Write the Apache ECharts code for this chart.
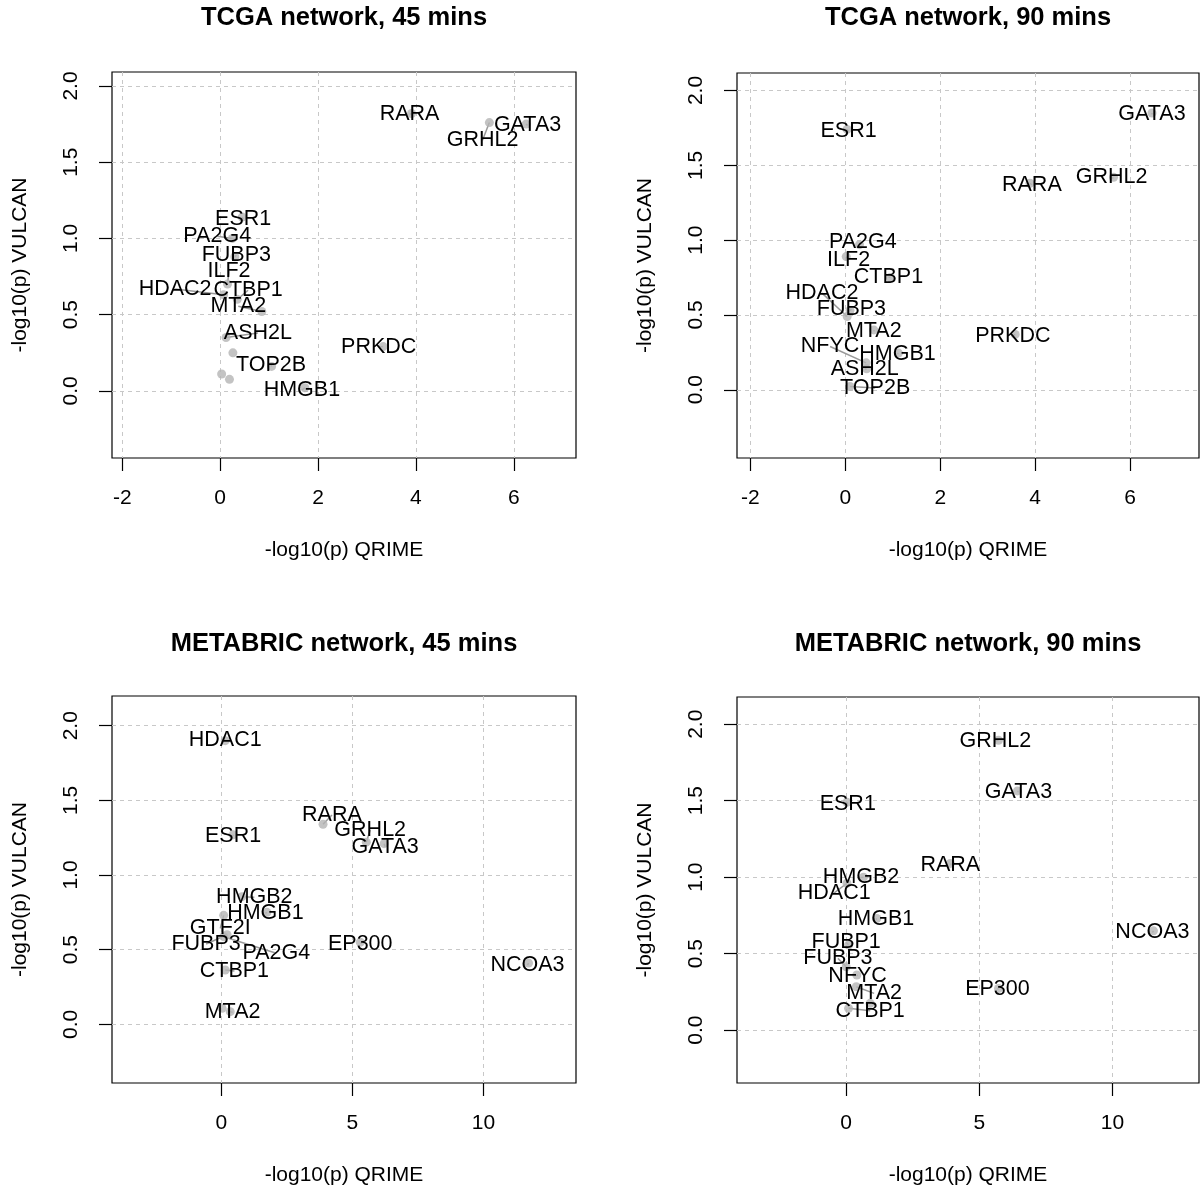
<!DOCTYPE html>
<html>
<head>
<meta charset="utf-8">
<script src="https://cdn.jsdelivr.net/npm/echarts@6/dist/echarts.min.js"></script>
<style>
  html, body { margin: 0; padding: 0; background: #fff; }
  #chart { width: 1201px; height: 1191px; }
</style>
</head>
<body>
<div id="chart"></div>
<script>
// ---------- Data ----------
// Panel 1: TCGA network, 45 mins
const tcga45Genes  = ['RARA','GATA3','GRHL2','ESR1','PA2G4','FUBP3','ILF2','HDAC2','CTBP1','MTA2','ASH2L','TOP2B','HMGB1','PRKDC'];
const tcga45Qrime  = [3.91, 6.25, 5.50, 0.45, 0.25, 0.30, 0.15, 0.07, 0.35, 0.85, 0.12, 1.05, 1.73, 3.33];
const tcga45Vulcan = [1.82, 1.75, 1.76, 1.14, 1.00, 0.88, 0.70, 0.63, 0.60, 0.52, 0.35, 0.16, 0.02, 0.29];
const tcga45LabelX = [3.87, 6.28, 5.36, 0.47, -0.06, 0.33, 0.18, -0.92, 0.57, 0.37, 0.77, 1.04, 1.67, 3.24];
const tcga45LabelY = [1.814, 1.742, 1.644, 1.126, 1.014, 0.89, 0.785, 0.668, 0.66, 0.555, 0.379, 0.168, 0.005, 0.287];
const tcga45OtherX = [0.26, 0.03, 0.19];
const tcga45OtherY = [0.249, 0.11, 0.075];

// Panel 2: TCGA network, 90 mins
const tcga90Genes  = ['GATA3','ESR1','RARA','GRHL2','PRKDC','PA2G4','ILF2','CTBP1','HDAC2','FUBP3','MTA2','NFYC','HMGB1','ASH2L','TOP2B'];
const tcga90Qrime  = [6.46, 0.04, 3.89, 5.65, 3.58, 0.30, 0.02, 0.95, 0.04, 0.10, 0.60, 0.44, 1.12, 0.45, 0.10];
const tcga90Vulcan = [1.85, 1.74, 1.38, 1.42, 0.37, 0.97, 0.89, 0.75, 0.49, 0.53, 0.40, 0.18, 0.245, 0.14, 0.022];
const tcga90LabelX = [6.46, 0.07, 3.93, 5.61, 3.53, 0.37, 0.07, 0.91, -0.49, 0.13, 0.60, -0.32, 1.10, 0.41, 0.63];
const tcga90LabelY = [1.84, 1.726, 1.37, 1.42, 0.361, 0.984, 0.869, 0.753, 0.646, 0.539, 0.39, 0.289, 0.24, 0.138, 0.011];
const tcga90OtherX = [];
const tcga90OtherY = [];

// Panel 3: METABRIC network, 45 mins
const metabric45Genes  = ['HDAC1','ESR1','RARA','GRHL2','GATA3','HMGB2','HMGB1','GTF2I','FUBP3','PA2G4','EP300','NCOA3','CTBP1','MTA2'];
const metabric45Qrime  = [0.15, 0.45, 3.88, 5.53, 6.21, 0.79, 1.74, 0.09, 0.22, 0.09, 5.30, 11.72, 0.15, 0.34];
const metabric45Vulcan = [1.90, 1.27, 1.34, 1.22, 1.21, 0.855, 0.75, 0.73, 0.60, 0.587, 0.55, 0.41, 0.364, 0.085];
const metabric45LabelX = [0.15, 0.45, 4.22, 5.68, 6.25, 1.26, 1.68, -0.04, -0.58, 2.10, 5.30, 11.68, 0.50, 0.43];
const metabric45LabelY = [1.904, 1.261, 1.402, 1.301, 1.19, 0.851, 0.743, 0.643, 0.538, 0.476, 0.538, 0.397, 0.357, 0.08];
const metabric45OtherX = [0.03];
const metabric45OtherY = [0.107];

// Panel 4: METABRIC network, 90 mins
const metabric90Genes  = ['GRHL2','GATA3','ESR1','RARA','HMGB2','HDAC1','HMGB1','NCOA3','FUBP1','FUBP3','NFYC','MTA2','CTBP1','EP300'];
const metabric90Qrime  = [5.72, 6.43, 0.03, 3.91, 0.65, 0.03, 1.15, 11.54, 0.09, 0.00, 0.40, 0.38, 0.09, 5.72];
const metabric90Vulcan = [1.895, 1.564, 1.49, 1.09, 1.00, 0.96, 0.73, 0.649, 0.556, 0.414, 0.36, 0.283, 0.142, 0.272];
const metabric90LabelX = [5.60, 6.47, 0.06, 3.91, 0.56, -0.45, 1.12, 11.50, 0.00, -0.31, 0.43, 1.05, 0.90, 5.68];
const metabric90LabelY = [1.891, 1.558, 1.475, 1.078, 0.998, 0.897, 0.723, 0.638, 0.573, 0.469, 0.355, 0.24, 0.126, 0.266];
const metabric90OtherX = [0.90];
const metabric90OtherY = [0.175];

// Tick labels
const tcgaXTicks = [-2, 0, 2, 4, 6];
const metabricXTicks = [0, 5, 10];
const yTicks = [0, 0.5, 1.0, 1.5, 2.0];

const titles = ['TCGA network, 45 mins', 'TCGA network, 90 mins', 'METABRIC network, 45 mins', 'METABRIC network, 90 mins'];
const xAxisTitle = '-log10(p) QRIME';
const yAxisTitle = '-log10(p) VULCAN';

// ---------- Layout / styles ----------
const FONT = 'Liberation Sans, Arial, Helvetica, sans-serif';
const panels = [
  { grid: { left: 112, top: 72, width: 464, height: 386 }, xMin: -2.21, xMax: 7.27, yMin: -0.441, yMax: 2.092, xTicks: tcgaXTicks,
    genes: tcga45Genes, qx: tcga45Qrime, vy: tcga45Vulcan, lx: tcga45LabelX, ly: tcga45LabelY, ox: tcga45OtherX, oy: tcga45OtherY, titleTop: 5 },
  { grid: { left: 737, top: 73, width: 462, height: 385 }, xMin: -2.28, xMax: 7.45, yMin: -0.456, yMax: 2.117, xTicks: tcgaXTicks,
    genes: tcga90Genes, qx: tcga90Qrime, vy: tcga90Vulcan, lx: tcga90LabelX, ly: tcga90LabelY, ox: tcga90OtherX, oy: tcga90OtherY, titleTop: 5 },
  { grid: { left: 112, top: 696, width: 464, height: 387 }, xMin: -4.17, xMax: 13.53, yMin: -0.393, yMax: 2.199, xTicks: metabricXTicks,
    genes: metabric45Genes, qx: metabric45Qrime, vy: metabric45Vulcan, lx: metabric45LabelX, ly: metabric45LabelY, ox: metabric45OtherX, oy: metabric45OtherY, titleTop: 631 },
  { grid: { left: 737, top: 697, width: 462, height: 386 }, xMin: -4.10, xMax: 13.25, yMin: -0.346, yMax: 2.178, xTicks: metabricXTicks,
    genes: metabric90Genes, qx: metabric90Qrime, vy: metabric90Vulcan, lx: metabric90LabelX, ly: metabric90LabelY, ox: metabric90OtherX, oy: metabric90OtherY, titleTop: 631 }
];

const grids = [], xAxes = [], yAxes = [], series = [], titleOpts = [];
const gridLine = { show: true, lineStyle: { color: '#c8c8c8', type: [4, 4], width: 1 } };

panels.forEach((p, i) => {
  grids.push(Object.assign({ show: true, borderColor: '#000', borderWidth: 1.2, backgroundColor: 'transparent', containLabel: false }, p.grid));
  titleOpts.push({
    text: titles[i], left: p.grid.left + p.grid.width / 2, top: p.titleTop, textAlign: 'center', padding: 0,
    textStyle: { fontFamily: FONT, fontSize: 25.5, fontWeight: 'bold', color: '#000' }
  });
  xAxes.push({
    type: 'value', gridIndex: i, min: p.xMin, max: p.xMax, position: 'bottom',
    name: xAxisTitle, nameLocation: 'middle', nameGap: 82,
    nameTextStyle: { fontFamily: FONT, fontSize: 21, color: '#000' },
    axisLine: { show: false, onZero: false },
    axisTick: { show: true, inside: false, customValues: p.xTicks, length: 13, lineStyle: { color: '#000', width: 1.2 } },
    axisLabel: { customValues: p.xTicks, margin: 30, fontFamily: FONT, fontSize: 21, color: '#000', formatter: v => String(v) },
    splitLine: gridLine
  });
  yAxes.push({
    type: 'value', gridIndex: i, min: p.yMin, max: p.yMax, position: 'left',
    name: yAxisTitle, nameLocation: 'middle', nameGap: 81,
    nameTextStyle: { fontFamily: FONT, fontSize: 21, color: '#000' },
    axisLine: { show: false, onZero: false },
    axisTick: { show: true, inside: false, customValues: yTicks, length: 13, lineStyle: { color: '#000', width: 1.2 } },
    axisLabel: { customValues: yTicks, margin: 30, rotate: 90, fontFamily: FONT, fontSize: 21, color: '#000', formatter: v => v.toFixed(1) },
    splitLine: gridLine
  });

  // connector segments (label -> point)
  series.push({
    type: 'lines', coordinateSystem: 'cartesian2d', xAxisIndex: i, yAxisIndex: i, silent: true, z: 2,
    lineStyle: { color: '#9a9a9a', width: 1.5, opacity: 1 },
    data: p.genes.map((g, k) => ({ coords: [[p.lx[k], p.ly[k]], [p.qx[k], p.vy[k]]] }))
  });
  // points
  const pts = p.genes.map((g, k) => [p.qx[k], p.vy[k]]).concat(p.ox.map((x, k) => [x, p.oy[k]]));
  series.push({
    type: 'scatter', xAxisIndex: i, yAxisIndex: i, silent: true, z: 3,
    symbol: 'circle', symbolSize: 9, itemStyle: { color: '#b4b4b4' },
    data: pts
  });
  // labels
  series.push({
    type: 'scatter', xAxisIndex: i, yAxisIndex: i, silent: true, z: 4,
    symbol: 'circle', symbolSize: 1, itemStyle: { color: 'rgba(255,255,255,0)' },
    label: { show: true, position: 'inside', formatter: d => d.name, fontFamily: FONT, fontSize: 21.5,
             color: '#000', opacity: 1, textBorderWidth: 0, textShadowBlur: 0 },
    labelLayout: { hideOverlap: false },
    data: p.genes.map((g, k) => ({ name: g, value: [p.lx[k], p.ly[k]] }))
  });
});

const chart = echarts.init(document.getElementById('chart'), null, { renderer: 'canvas' });
chart.setOption({
  animation: false,
  backgroundColor: '#fff',
  title: titleOpts,
  grid: grids,
  xAxis: xAxes,
  yAxis: yAxes,
  series: series
});
</script>
</body>
</html>
